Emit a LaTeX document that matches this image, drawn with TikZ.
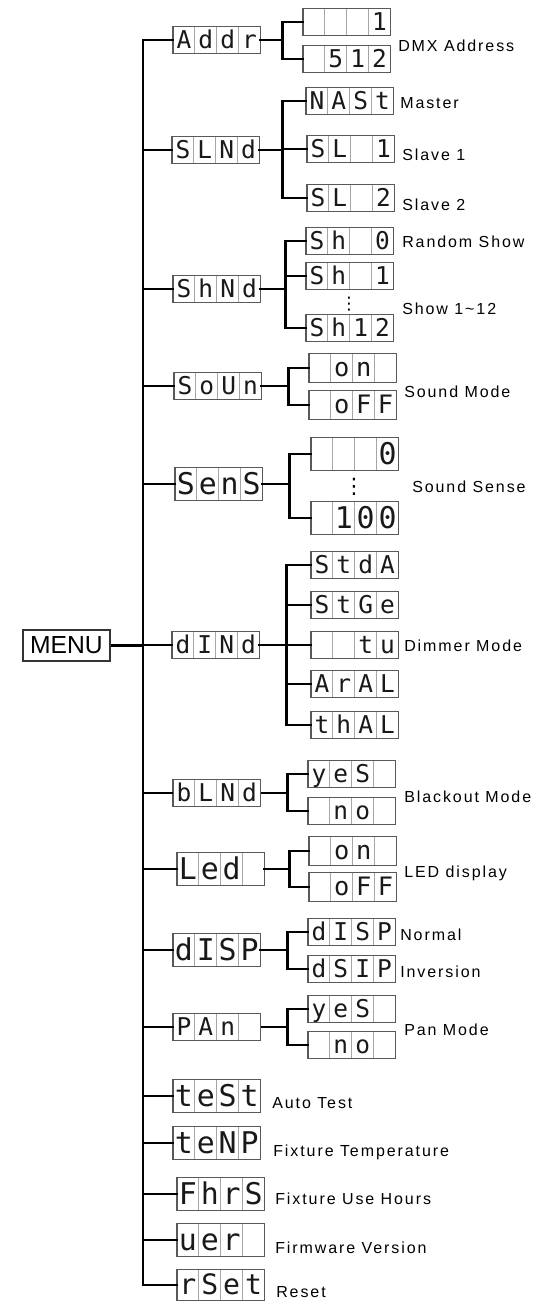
\documentclass[tikz,border=0pt]{standalone}
\usepackage{fontspec}
\setmainfont{Liberation Sans}
\newfontfamily\lcdfont{DejaVu Sans Mono}
\newfontfamily\lblfont[LetterSpace=12]{Liberation Sans}
\newfontfamily\dotfont{DejaVu Sans}
\usetikzlibrary{calc}
\tikzset{
  conn/.style={line width=1.6pt, black, line cap=rect},
  thinconn/.style={line width=0.8pt, black},
  menuconn/.style={line width=2.6pt, black},
  lcdbox/.style={minimum width=65.25pt, inner sep=0pt, anchor=west},
  lcdborder/.style={draw=black!65, line width=0.9pt},
  lcddiv/.style={draw=black!35, line width=0.7pt},
  lcdtxt/.style={inner sep=0pt, anchor=base, text=black!90},
  lbl/.style={font=\lblfont\fontsize{12}{12}\selectfont, anchor=west, inner sep=0pt},
  menubox/.style={draw=black!80, line width=1.1pt, minimum width=65.25pt, minimum height=23.25pt, inner sep=0pt, font=\fontsize{18.5}{18.5}\selectfont},
  dots/.style={font=\dotfont\fontsize{13}{13}\selectfont, inner sep=0pt},
}
% #1 height (px), #2 name, #3 west position, #4-#7 cell characters
\newcommand\lcd[7]{%
  \pgfmathsetmacro\lcdfs{#1*0.68}%
  \pgfmathsetmacro\lcdbo{#1*0.19}%
  \node[lcdbox, minimum height=#1*0.75pt] (#2) at (#3) {};
  \foreach \k in {1,2,3}{\draw[lcddiv] ($(#2.north west)!\k/4!(#2.north east)$) -- ($(#2.south west)!\k/4!(#2.south east)$);}
  \draw[lcdborder] (#2.north west) rectangle (#2.south east);
  \node[lcdtxt, font=\lcdfont\fontsize{\lcdfs pt}{\lcdfs pt}\selectfont] (#2c1) at ($(#2.south west)!0.125!(#2.south east)+(0,-\lcdbo)$) {#4};
  \node[lcdtxt, font=\lcdfont\fontsize{\lcdfs pt}{\lcdfs pt}\selectfont] (#2c2) at ($(#2.south west)!0.375!(#2.south east)+(0,-\lcdbo)$) {#5};
  \node[lcdtxt, font=\lcdfont\fontsize{\lcdfs pt}{\lcdfs pt}\selectfont] (#2c3) at ($(#2.south west)!0.625!(#2.south east)+(0,-\lcdbo)$) {#6};
  \node[lcdtxt, font=\lcdfont\fontsize{\lcdfs pt}{\lcdfs pt}\selectfont] (#2c4) at ($(#2.south west)!0.875!(#2.south east)+(0,-\lcdbo)$) {#7};
}
\begin{document}
\begin{tikzpicture}[x=0.75pt,y=-0.75pt]
\useasboundingbox (0,0) rectangle (548,1303);
\fill[white] (0,0) rectangle (548,1303);

% MENU
\node[menubox] (menu) at (66.5,645.5) {MENU};

% level 1
\lcd{27}{addr}{173,40}{A}{d}{d}{r}
\lcd{27}{slnd}{172,150}{S}{L}{N}{d}
\lcd{27}{shnd}{173,289}{S}{h}{N}{d}
\lcd{27}{soun}{174,386}{S}{o}{U}{n}
\lcd{33}{sens}{175,484}{S}{e}{n}{S}
\lcd{27}{dind}{172,645}{d}{I}{N}{d}
\lcd{27}{blnd}{173,793}{b}{L}{N}{d}
\lcd{33}{led}{177,869}{L}{e}{d}{}
\lcd{33}{disp}{173,950}{d}{I}{S}{P}
\lcd{27}{pan}{173,1027}{P}{A}{n}{}
\lcd{33}{test}{173,1096}{t}{e}{S}{t}
\lcd{33}{temp}{173,1143}{t}{e}{N}{P}
\lcd{33}{fhrs}{177,1194}{F}{h}{r}{S}
\lcd{33}{ver}{177,1240}{u}{e}{r}{}
\lcd{31}{rset}{177,1285}{r}{S}{e}{t}

% level 2
\lcd{27}{a1}{303,22}{}{}{}{1}
\lcd{27}{a2}{303,59}{}{5}{1}{2}
\lcd{27}{m1}{306,101}{N}{A}{S}{t}
\lcd{27}{m2}{307,149}{S}{L}{}{1}
\lcd{27}{m3}{307,198}{S}{L}{}{2}
\lcd{27}{h0}{306,241}{S}{h}{}{0}
\lcd{27}{h1}{306,276}{S}{h}{}{1}
\lcd{27}{h12}{306,328}{S}{h}{1}{2}
\lcd{28}{on1}{309,368}{}{o}{n}{}
\lcd{28}{off1}{309,405}{}{o}{F}{F}
\lcd{33}{z0}{311,454}{}{}{}{0}
\lcd{33}{z100}{311,518}{}{1}{0}{0}
\lcd{27}{d1}{311,565}{S}{t}{d}{A}
\lcd{27}{d2}{311,605}{S}{t}{G}{e}
\lcd{27}{d3}{311,645}{}{}{t}{u}
\lcd{27}{d4}{311,684}{A}{r}{A}{L}
\lcd{27}{d5}{311,725}{t}{h}{A}{L}
\lcd{27}{b1}{308,774}{y}{e}{S}{}
\lcd{27}{b2}{308,811}{}{n}{o}{}
\lcd{28}{l1}{309,851}{}{o}{n}{}
\lcd{28}{l2}{309,887}{}{o}{F}{F}
\lcd{27}{p1}{308,932}{d}{I}{S}{P}
\lcd{27}{p2}{308,969}{d}{S}{I}{P}
\lcd{27}{q1}{308,1009}{y}{e}{S}{}
\lcd{27}{q2}{308,1045}{}{n}{o}{}

% dots
\node[dots] (hdots) at (349,304) {⋮};
\node[dots, font=\dotfont\fontsize{16}{16}\selectfont] (zdots) at (354,487) {⋮};

% trunk
\coordinate (tr) at (143,40);
\draw[conn] (tr) -- (tr |- rset.west);
\draw[menuconn] (menu.east) -- (tr |- menu.east);
\foreach \n in {addr,slnd,shnd,soun,sens,dind,led,disp,pan,test,temp,fhrs,ver,rset}{
  \draw[conn] (tr |- \n.west) -- (\n.west);
}
\draw[thinconn] (tr |- blnd.west) -- (blnd.west);

% branches
\foreach \c in {a1,a2}{\draw[conn] (addr.east) -- ++(22,0) |- (\c.west);}
\foreach \c in {m1,m2,m3}{\draw[conn] (slnd.east) -- ++(23,0) |- (\c.west);}
\foreach \c in {h0,h1,h12}{\draw[conn] (shnd.east) -- ++(25,0) |- (\c.west);}
\foreach \c in {on1,off1}{\draw[conn] (soun.east) -- ++(27,0) |- (\c.west);}
\foreach \c in {z0,z100}{\draw[conn] (sens.east) -- ++(27,0) |- (\c.west);}
\foreach \c in {d1,d2,d3,d4,d5}{\draw[conn] (dind.east) -- ++(27,0) |- (\c.west);}
\draw[thinconn] (blnd.east) -- ++(27,0) coordinate (bbr);
\foreach \c in {b1,b2}{\draw[conn] (bbr) |- (\c.west);}
\foreach \c in {l1,l2}{\draw[conn] (led.east) -- ++(25,0) |- (\c.west);}
\foreach \c in {p1,p2}{\draw[conn] (disp.east) -- ++(27,0) |- (\c.west);}
\draw[thinconn] (pan.east) -- ++(27,0) coordinate (pbr);
\foreach \c in {q1,q2}{\draw[conn] (pbr) |- (\c.west);}

% labels
\node[lbl] (t1) at (398,46) {DMX Address};
\node[lbl] (t2) at (400,103) {Master};
\node[lbl] (t3) at (402,155) {Slave 1};
\node[lbl] (t4) at (402,205) {Slave 2};
\node[lbl] (t5) at (402,242) {Random Show};
\node[lbl] (t6) at (402,309) {Show 1\char`~12};
\node[lbl] (t7) at (404,392) {Sound Mode};
\node[lbl] (t8) at (412,487) {Sound Sense};
\node[lbl] (t9) at (404,646) {Dimmer Mode};
\node[lbl] (t10) at (404,797) {Blackout Mode};
\node[lbl] (t11) at (404,873) {LED display};
\node[lbl] (t12) at (400,935) {Normal};
\node[lbl] (t13) at (400,972) {Inversion};
\node[lbl] (t14) at (404,1030) {Pan Mode};
\node[lbl] (t15) at (272,1103) {Auto Test};
\node[lbl] (t16) at (273,1152) {Fixture Temperature};
\node[lbl] (t17) at (275,1199) {Fixture Use Hours};
\node[lbl] (t18) at (275,1248) {Firmware Version};
\node[lbl] (t19) at (276,1292) {Reset};
\end{tikzpicture}
\end{document}
